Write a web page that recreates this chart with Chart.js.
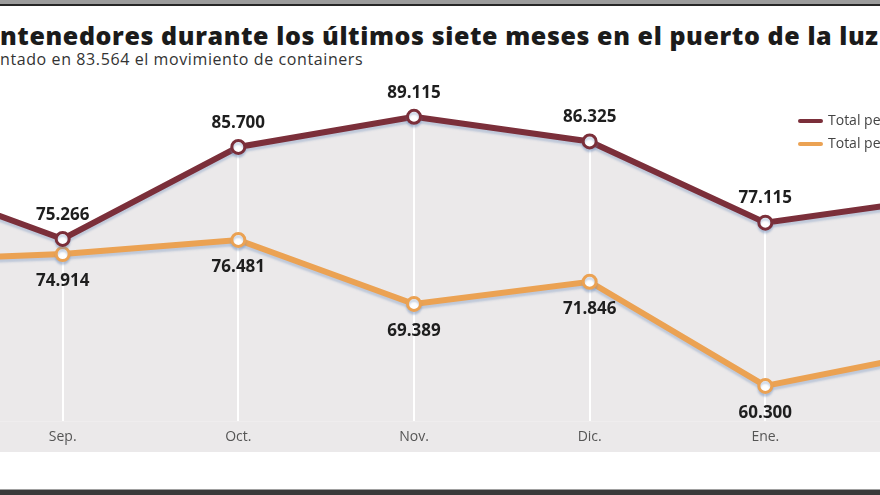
<!DOCTYPE html>
<html>
<head>
<meta charset="utf-8">
<script src="https://cdn.jsdelivr.net/npm/chart.js@4.4.0/dist/chart.umd.min.js"></script>
<style>
  html, body { margin: 0; padding: 0; }
  body { width: 880px; height: 495px; position: relative; overflow: hidden; background: #fff; }
  #topbar { position: absolute; left: 0; top: 0; width: 880px; height: 4px; background: #9c9c9c; border-bottom: 2px solid #262626; }
  #bottombar { position: absolute; left: 0; top: 489px; width: 880px; height: 5px; background: #3a3a3a; border-top: 1px solid #a0a0a0; }
  #title { position: absolute; left: 0; top: 18px; white-space: nowrap; font-family: "Open Sans", sans-serif; font-weight: 800; font-size: 25px; letter-spacing: 0.6px; color: #1b1b1b; line-height: normal; }
  #subtitle { position: absolute; left: 0; top: 48px; white-space: nowrap; font-family: "Open Sans", sans-serif; font-size: 16px; letter-spacing: 0.6px; color: #333; line-height: normal; }
  #chartWrap { position: absolute; left: -153px; top: 80px; width: 1134px; height: 372px; }
  .leg { position: absolute; left: 798px; white-space: nowrap; font-family: "Open Sans", sans-serif; font-size: 14px; color: #444; }
  .leg span { display: inline-block; width: 25px; height: 4px; vertical-align: middle; margin-right: 5px; border-radius: 2px; }
</style>
</head>
<body>
<div id="topbar"></div>
<div id="title">ntenedores durante los últimos siete meses en el puerto de la luz</div>
<div id="subtitle">ntado en 83.564 el movimiento de containers</div>
<div id="chartWrap"><canvas id="chartPuerto" width="1134" height="372"></canvas></div>
<div class="leg" style="top:110px"><span style="background:#7b2f3a"></span>Total periodo anterior</div>
<div class="leg" style="top:133px"><span style="background:#eba253"></span>Total periodo actual</div>
<div id="bottombar"></div>

<script>
/* datos */
const meses = ['Ago.', 'Sep.', 'Oct.', 'Nov.', 'Dic.', 'Ene.', 'Feb.'];
const totalAnterior = [82560, 75266, 85700, 89115, 86325, 77115, 79900];
const totalActual = [74150, 74914, 76481, 69389, 71846, 60300, 64170];

const GRANATE = '#7b2f3a';
const NARANJA = '#eba253';
const GRIS = '#ebe9ea';

function formatoMiles(v) {
    return String(v).replace(/\B(?=(\d{3})+(?!\d))/g, '.');
}

/* banda gris debajo del area (zona de los meses) */
const bandaGris = {
    id: 'bandaGris',
    beforeDraw(chart) {
        const ctx = chart.ctx;
        ctx.save();
        ctx.fillStyle = GRIS;
        ctx.fillRect(0, chart.chartArea.bottom, chart.width, chart.height - chart.chartArea.bottom);
        ctx.restore();
    }
};

/* sombra azulada suave bajo las lineas */
const sombra = {
    id: 'sombra',
    beforeDatasetDraw(chart) {
        const ctx = chart.ctx;
        ctx.save();
        ctx.shadowColor = 'rgba(110,140,185,0.35)';
        ctx.shadowOffsetY = 3;
        ctx.shadowBlur = 2;
    },
    afterDatasetDraw(chart) {
        chart.ctx.restore();
    }
};

/* etiquetas de valores */
const etiquetas = {
    id: 'etiquetas',
    afterDatasetsDraw(chart) {
        const ctx = chart.ctx;
        ctx.save();
        ctx.font = 'bold 17px "Open Sans", sans-serif';
        ctx.fillStyle = '#1e1e1e';
        ctx.textAlign = 'center';
        ctx.textBaseline = 'middle';
        chart.data.datasets.forEach(function(ds, i) {
            const meta = chart.getDatasetMeta(i);
            const desp = i === 0 ? -24 : 27;
            meta.data.forEach(function(p, j) {
                ctx.fillText(formatoMiles(ds.data[j]), p.x, p.y + desp);
            });
        });
        ctx.restore();
    }
};

const ctx = document.getElementById('chartPuerto').getContext('2d');
const chartPuerto = new Chart(ctx, {
    type: 'line',
    data: {
        labels: meses,
        datasets: [
            {
                label: 'Total periodo anterior',
                data: totalAnterior,
                yAxisID: 'y',
                borderColor: GRANATE,
                borderWidth: 6,
                backgroundColor: GRIS,
                fill: 'start',
                tension: 0,
                pointRadius: 6.5,
                pointBorderWidth: 3,
                pointBackgroundColor: '#fff',
                pointBorderColor: GRANATE
            },
            {
                label: 'Total periodo actual',
                data: totalActual,
                yAxisID: 'y2',
                borderColor: NARANJA,
                borderWidth: 6,
                fill: false,
                tension: 0,
                pointRadius: 6.5,
                pointBorderWidth: 3,
                pointBackgroundColor: '#fff',
                pointBorderColor: NARANJA
            }
        ]
    },
    options: {
        responsive: false,
        animation: false,
        layout: { padding: { left: 40, right: 40, top: 10, bottom: 0 } },
        plugins: {
            legend: { display: false },
            tooltip: { enabled: false },
            filler: { drawTime: 'beforeDraw' }
        },
        scales: {
            x: {
                offset: false,
                grid: { color: '#ffffff', lineWidth: 2, drawTicks: false },
                border: { display: false },
                ticks: {
                    padding: 7,
                    color: '#555',
                    font: { family: '"Open Sans", sans-serif', size: 14 }
                }
            },
            y: { display: false, min: 54600, max: 92155 },
            y2: { display: false, min: 56393, max: 93102 }
        }
    },
    plugins: [bandaGris, sombra, etiquetas]
});
</script>
</body>
</html>
